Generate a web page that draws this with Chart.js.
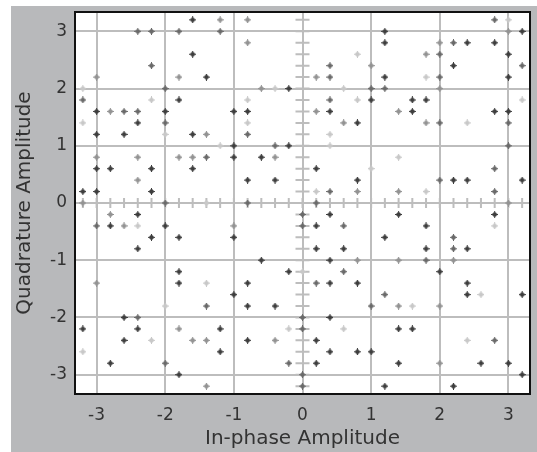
<!DOCTYPE html>
<html>
<head>
<meta charset="utf-8">
<script src="https://cdn.jsdelivr.net/npm/chart.js@4.4.1/dist/chart.umd.min.js"></script>
<style>
  html, body { margin: 0; padding: 0; background: #fff; }
  #wrap { position: absolute; left: 11px; top: 6px; width: 526px; height: 446px; background: #b8b9bb; }
</style>
</head>
<body>
<div id="wrap"><canvas id="constellation" width="526" height="446"></canvas></div>
<script>
const xTicks = [-3, -2, -1, 0, 1, 2, 3];
const yTicks = [-3, -2, -1, 0, 1, 2, 3];
const minorStep = 0.2;

// received symbols, one pair of arrays per marker shade (I = in-phase, Q = quadrature)
const darkI = [
  -1.6,
  1.2, 3.2,
  1.2, 2.4, 2.8,
  -1.6, 3.0,
  2.2,
  -1.4, 1.2, 3.0,
  -0.2,
  -1.8, 1.0, 1.6, 1.8,
  -3.0, -2.0, -1.0, -0.8, 0.4, 1.6, 2.8, 3.0,
  -2.4, 0.8,
  -3.0, -2.6, -1.6,
  -1.0, -0.2,
  -1.0, -0.6,
  -3.0, -2.8, -2.2, -1.6, 0.2,
  -0.8, -0.4, 0.8, 2.2, 2.4, 3.2,
  -3.2, -3.0, -2.2,
  -2.4, 0.4, 1.4, 2.8,
  -2.8, -2.0, 0.2, 1.8,
  -2.2, -1.8, -1.0, 1.2,
  -2.4, 0.2, 0.6, 1.8, 2.4,
  -0.6, 0.4,
  -1.8, -0.2, 2.0,
  -1.8, -0.8, 0.4, 0.8, 2.4,
  -1.0, 2.4, 3.2,
  -0.8, -0.4,
  -2.6, 0.4,
  -3.2, -2.4, -1.2, 1.4, 1.6,
  -2.6, -0.8, 0.2,
  -1.2, 0.4, 0.8, 1.0,
  -2.8, 0.2, 1.4, 2.6, 3.0,
  -1.8, 3.2,
  1.2, 2.2
];
const darkQ = [
  3.2,
  3.0, 3.0,
  2.8, 2.8, 2.8,
  2.6, 2.6,
  2.4,
  2.2, 2.2, 2.2,
  2.0,
  1.8, 1.8, 1.8, 1.8,
  1.6, 1.6, 1.6, 1.6, 1.6, 1.6, 1.6, 1.6,
  1.4, 1.4,
  1.2, 1.2, 1.2,
  1.0, 1.0,
  0.8, 0.8,
  0.6, 0.6, 0.6, 0.6, 0.6,
  0.4, 0.4, 0.4, 0.4, 0.4, 0.4,
  0.2, 0.2, 0.2,
  -0.2, -0.2, -0.2, -0.2,
  -0.4, -0.4, -0.4, -0.4,
  -0.6, -0.6, -0.6, -0.6,
  -0.8, -0.8, -0.8, -0.8, -0.8,
  -1.0, -1.0,
  -1.2, -1.2, -1.2,
  -1.4, -1.4, -1.4, -1.4, -1.4,
  -1.6, -1.6, -1.6,
  -1.8, -1.8,
  -2.0, -2.0,
  -2.2, -2.2, -2.2, -2.2, -2.2,
  -2.4, -2.4, -2.4,
  -2.6, -2.6, -2.6, -2.6,
  -2.8, -2.8, -2.8, -2.8, -2.8,
  -3.0, -3.0,
  -3.2, -3.2
];

const midI = [
  2.8,
  -2.4, -2.2, -1.8, -1.2,
  2.2,
  2.0,
  -2.2, 0.4, 3.2,
  0.4, 2.0,
  -2.0, 1.0, 1.2,
  -3.2, 0.4,
  -2.6, -2.4,
  -2.0, 2.0, 3.0,
  -0.8,
  -0.4, 3.0,
  -1.4,
  2.8,
  2.0,
  0.4, 2.8,
  -2.0, -0.8, 0.2,
  0,
  -3.0, 0, 0.6,
  2.2,
  2.2,
  1.8,
  0.6,
  0.2,
  1.2,
  -1.4, 1.0,
  -2.4, 0,
  0,
  2.8,
  -2.0, -0.2,
  0,
  0
];
const midQ = [
  3.2,
  3.0, 3.0, 3.0, 3.0,
  2.8,
  2.6,
  2.4, 2.4, 2.4,
  2.2, 2.2,
  2.0, 2.0, 2.0,
  1.8, 1.8,
  1.6, 1.6,
  1.4, 1.4, 1.4,
  1.2,
  1.0, 1.0,
  0.8,
  0.6,
  0.4,
  0.2, 0.2,
  0, 0, 0,
  -0.2,
  -0.4, -0.4, -0.4,
  -0.6,
  -0.8,
  -1.0,
  -1.2,
  -1.4,
  -1.6,
  -1.8, -1.8,
  -2.0, -2.0,
  -2.2,
  -2.4,
  -2.8, -2.8,
  -3.0,
  -3.2
];

const grayI = [
  -1.2, -0.8,
  3.0,
  -0.8, 2.0,
  1.8,
  1.0,
  -3.0, -1.8, 0.2,
  -0.6, 2.0,
  -2.8, 0.2, 1.4,
  0.6, 1.8,
  -1.4,
  -3.0, -2.4, -1.8, -1.6, -0.4,
  -2.4,
  0.8, 1.4,
  -3.2, 3.0,
  -2.8,
  -2.6, -1.0,
  0.8, 1.4, 2.2,
  -3.0,
  1.4, 2.0,
  -1.8,
  -1.6, -1.4, -0.4,
  2.0,
  -1.4
];
const grayQ = [
  3.2, 3.2,
  3.0,
  2.8, 2.8,
  2.6,
  2.4,
  2.2, 2.2, 2.2,
  2.0, 2.0,
  1.6, 1.6, 1.6,
  1.4, 1.4,
  1.2,
  0.8, 0.8, 0.8, 0.8, 0.8,
  0.4,
  0.2, 0.2,
  0, 0,
  -0.2,
  -0.4, -0.4,
  -1.0, -1.0, -1.0,
  -1.4,
  -1.8, -1.8,
  -2.2,
  -2.4, -2.4, -2.4,
  -2.8,
  -3.2
];

const lightI = [
  3.0,
  0.8,
  1.8,
  -3.2, -0.4, 0.6,
  -2.2, -0.8, 0.8, 3.2,
  -3.2, -0.8, 2.4,
  -2.0, 0.4,
  -1.2, 0.4,
  1.4,
  1.0,
  0.2, 1.8,
  -1.4,
  -2.4, 2.8,
  0,
  -1.4,
  2.6,
  -2.0, 1.6,
  -0.2, 0.6,
  -2.2, 2.4,
  -3.2
];
const lightQ = [
  3.2,
  2.6,
  2.2,
  2.0, 2.0, 2.0,
  1.8, 1.8, 1.8, 1.8,
  1.4, 1.4, 1.4,
  1.2, 1.2,
  1.0, 1.0,
  0.8,
  0.6,
  0.2, 0.2,
  0,
  -0.4, -0.4,
  -1.2,
  -1.4,
  -1.6,
  -1.8, -1.8,
  -2.2, -2.2,
  -2.4, -2.4,
  -2.6
];

// small four-point star used as the marker
function marker(color) {
  const c = document.createElement('canvas');
  c.width = 7;
  c.height = 7;
  const g = c.getContext('2d');
  g.fillStyle = color;
  g.fillRect(3, 0, 1, 7);
  g.fillRect(0, 3, 7, 1);
  g.fillRect(2, 2, 3, 3);
  g.globalAlpha = 0.55;
  g.fillRect(2, 1, 3, 5);
  g.fillRect(1, 2, 5, 3);
  return c;
}

function points(is, qs) {
  return is.map((v, i) => ({ x: v, y: qs[i] }));
}

// white plot face, center cross with minor ticks, black frame round the plot
const frame = {
  id: 'frame',
  beforeDraw(chart) {
    const { ctx, chartArea: a } = chart;
    ctx.save();
    ctx.fillStyle = '#fff';
    ctx.fillRect(a.left, a.top, a.right - a.left, a.bottom - a.top);
    ctx.restore();
  },
  beforeDatasetsDraw(chart) {
    const { ctx, scales: { x, y } } = chart;
    const x0 = x.getPixelForValue(0);
    const y0 = y.getPixelForValue(0);
    ctx.save();
    ctx.strokeStyle = '#bdbdbd';
    ctx.lineWidth = 2;
    ctx.beginPath();
    for (let i = -16; i <= 16; i++) {
      const px = x.getPixelForValue(i * minorStep);
      ctx.moveTo(px, y0 - 5);
      ctx.lineTo(px, y0 + 5);
      const py = y.getPixelForValue(i * minorStep);
      ctx.moveTo(x0 - 7, py);
      ctx.lineTo(x0 + 7, py);
    }
    ctx.stroke();
    ctx.restore();
  },
  afterDatasetsDraw(chart) {
    const { ctx, chartArea: a } = chart;
    ctx.save();
    ctx.strokeStyle = '#111';
    ctx.lineWidth = 2;
    ctx.strokeRect(a.left - 1, a.top - 1, a.right - a.left + 2, a.bottom - a.top + 2);
    ctx.restore();
  }
};

const tickFont = { family: 'DejaVu Sans', size: 17 };
const titleFont = { family: 'DejaVu Sans', size: 20 };
const textColor = '#333';

new Chart(document.getElementById('constellation'), {
  type: 'scatter',
  data: {
    datasets: [
      { label: 'dark',  data: points(darkI, darkQ),   pointStyle: marker('#3e3e3e') },
      { label: 'mid',   data: points(midI, midQ),     pointStyle: marker('#6a6a6a') },
      { label: 'gray',  data: points(grayI, grayQ),   pointStyle: marker('#939393') },
      { label: 'light', data: points(lightI, lightQ), pointStyle: marker('#c8c8c8') }
    ]
  },
  options: {
    responsive: false,
    animation: false,
    events: [],
    layout: { padding: { top: 7, right: 8, left: 0, bottom: 0 } },
    plugins: {
      legend: { display: false },
      tooltip: { enabled: false }
    },
    scales: {
      x: {
        type: 'linear',
        min: -3.3,
        max: 3.3,
        afterBuildTicks: s => { s.ticks = xTicks.map(v => ({ value: v })); },
        afterFit: s => { s.height = 59; s.paddingLeft = 0; s.paddingRight = 0; },
        grid: { color: '#bdbdbd', lineWidth: 2, drawTicks: false },
        border: { display: false },
        ticks: { font: tickFont, color: textColor, padding: 12 },
        title: { display: true, text: 'In-phase Amplitude', font: titleFont, color: textColor, padding: { top: 0, bottom: 1 } }
      },
      y: {
        type: 'linear',
        min: -3.32,
        max: 3.32,
        afterBuildTicks: s => { s.ticks = yTicks.map(v => ({ value: v })); },
        afterFit: s => { s.width = 65; s.paddingTop = 0; s.paddingBottom = 0; },
        grid: { color: '#bdbdbd', lineWidth: 2, drawTicks: false },
        border: { display: false },
        ticks: { font: tickFont, color: textColor, padding: 9 },
        title: { display: true, text: 'Quadrature Amplitude', font: titleFont, color: textColor, padding: { top: 2, bottom: 0 } }
      }
    }
  },
  plugins: [frame]
});
</script>
</body>
</html>
